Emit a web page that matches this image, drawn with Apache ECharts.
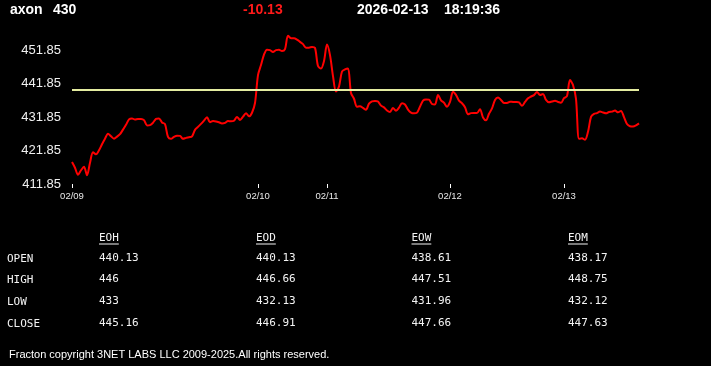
<!DOCTYPE html>
<html><head><meta charset="utf-8">
<script src="https://cdn.jsdelivr.net/npm/echarts@6/dist/echarts.min.js"></script>
<style>html,body{margin:0;padding:0;background:#000;}#c{width:711px;height:366px;}</style>
</head><body><div id="c"></div>
<script>
const symbolName = 'axon';
const lastPrice = '430';
const changeText = '-10.13';
const dateText = '2026-02-13';
const timeText = '18:19:36';

const dayLabels = ['02/09', '02/10', '02/11', '02/12', '02/13'];
const dayCounts = [62, 23, 41, 38, 26];

const prices = [
418.41,416.71,414.62,415.96,417.01,414.47,418.20,421.34,420.74,421.93,
423.76,425.43,426.89,426.14,425.43,426.02,426.77,428.14,429.58,431.19,
431.49,431.13,431.34,431.34,430.98,429.40,429.49,430.20,431.34,431.49,
430.29,429.76,425.96,425.37,425.96,426.32,426.26,425.37,425.67,425.87,
426.11,428.05,428.95,429.84,430.83,431.87,430.35,430.71,430.59,430.32,
429.99,430.14,430.68,430.62,430.80,431.93,431.04,432.02,433.04,432.11,
433.19,436.11,
444.47,447.46,450.59,452.08,451.93,451.34,451.93,452.02,451.64,452.23,
456.26,455.52,455.52,455.10,454.41,453.73,452.68,452.68,452.89,452.62,
447.16,446.41,448.65,
453.58,450.44,444.17,439.52,441.04,445.52,446.17,446.41,439.10,437.37,
435.01,435.16,434.62,434.11,435.90,436.59,436.71,436.53,435.31,434.80,
433.87,433.43,434.62,433.81,434.71,436.05,435.64,434.14,433.25,433.04,
433.22,435.01,436.83,437.16,437.10,435.81,435.67,438.53,436.89,436.17,
434.98,
436.41,439.46,438.53,436.80,436.02,434.83,432.74,433.07,433.13,433.13,
434.23,431.78,430.92,432.89,434.47,437.01,437.76,437.01,436.11,436.11,
436.50,436.41,436.38,436.26,435.25,436.41,437.52,438.05,438.47,439.40,
438.50,438.77,437.04,436.32,436.53,436.77,436.41,436.17,
437.55,438.20,442.98,441.49,437.31,425.37,425.55,425.07,427.46,431.93,
432.86,433.07,433.52,433.25,433.01,433.43,433.52,433.87,433.31,433.73,
431.87,429.82,429.13,429.04,429.37,430.00
];

const openLevel = 440.13;
const yTicks = [411.85, 421.85, 431.85, 441.85, 451.85];

const tableCols = ['EOH', 'EOD', 'EOW', 'EOM'];
const rowNames = ['OPEN', 'HIGH', 'LOW', 'CLOSE'];
const eohVals = ['440.13', '446', '433', '445.16'];
const eodVals = ['440.13', '446.66', '432.13', '446.91'];
const eowVals = ['438.61', '447.51', '431.96', '447.66'];
const eomVals = ['438.17', '448.75', '432.12', '447.63'];
const footerText = 'Fracton copyright 3NET LABS LLC 2009-2025.All rights reserved.';

// build categories
const cats = [];
dayLabels.forEach((d, i) => { for (let k = 0; k < dayCounts[i]; k++) cats.push(d); });
const isDayStart = (idx) => idx === 0 || cats[idx] !== cats[idx - 1];

const colX = [99, 256, 411.5, 568];
const rowY = [259.5, 280.5, 302.5, 324.5];
const headerY = 238.5;
const mono = '"DejaVu Sans Mono", monospace';
const sans = '"Liberation Sans", Arial, sans-serif';
const colVals = [eohVals, eodVals, eowVals, eomVals];
const tFont = '11px ' + mono;

const graphics = [];
// header
const hdr = [
  [symbolName, 10, '#fff'], [lastPrice, 53, '#fff'], [changeText, 243, '#ff1a1a'],
  [dateText, 357, '#fff'], [timeText, 444, '#fff']
];
hdr.forEach(h => graphics.push({type: 'text', left: h[1], top: 3,
  style: {text: h[0], fill: h[2], font: 'bold 14px ' + sans}}));
// table
rowNames.forEach((r, i) => graphics.push({type: 'text', x: 7, y: rowY[i],
  style: {text: r, fill: '#f4f4f4', font: tFont, verticalAlign: 'middle'}}));
tableCols.forEach((c, j) => {
  graphics.push({type: 'text', x: colX[j], y: headerY,
    style: {text: c, fill: '#f4f4f4', font: tFont, verticalAlign: 'middle'}});
  graphics.push({type: 'line', shape: {x1: colX[j], y1: 244, x2: colX[j] + c.length * 6.6, y2: 244},
    style: {stroke: '#f4f4f4', lineWidth: 1}});
  colVals[j].forEach((v, i) => graphics.push({type: 'text', x: colX[j], y: rowY[i] - 1,
    style: {text: v, fill: '#f4f4f4', font: tFont, verticalAlign: 'middle'}}));
});
graphics.push({type: 'text', x: 9, y: 355,
  style: {text: footerText, fill: '#fff', font: '11px ' + sans, verticalAlign: 'middle'}});

const chart = echarts.init(document.getElementById('c'), null, {renderer: 'canvas'});
chart.setOption({
  backgroundColor: '#000',
  animation: false,
  grid: {left: 72, right: 72, top: 17, bottom: 182},
  xAxis: {
    type: 'category', data: cats, boundaryGap: false,
    axisLine: {show: false},
    axisTick: {show: true, interval: (i) => isDayStart(i), length: 4, lineStyle: {color: '#fff', width: 1}},
    axisLabel: {interval: (i) => isDayStart(i), color: '#e8e8e8', fontSize: 9.5, fontFamily: sans, margin: 7, hideOverlap: false},
    splitLine: {show: false}
  },
  yAxis: {
    type: 'value', min: yTicks[0], max: yTicks[yTicks.length - 1] + 10,
    axisLine: {show: false}, axisTick: {show: false}, splitLine: {show: false},
    axisLabel: {customValues: yTicks, formatter: (v) => v.toFixed(2), color: '#f0f0f0', fontSize: 13, fontFamily: sans, margin: 11}
  },
  series: [{
    type: 'line', data: prices, showSymbol: false, smooth: 0.3,
    lineStyle: {color: '#f00', width: 2},
    markLine: {silent: true, symbol: ['none', 'none'], label: {show: false},
      lineStyle: {color: '#e4eca0', width: 2, type: 'solid'},
      data: [{yAxis: openLevel}]}
  }],
  graphic: graphics
});
</script></body></html>
